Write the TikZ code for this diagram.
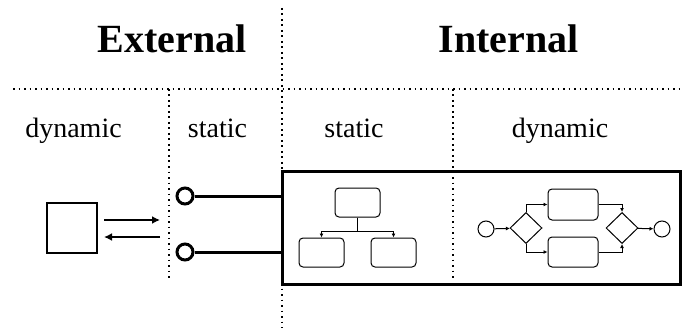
\documentclass[tikz,border=0pt]{standalone}
\usepackage{fontspec}
\setmainfont{Liberation Serif}
\usepackage{tikz}
\usetikzlibrary{arrows.meta,shapes.geometric}

\begin{document}
\begin{tikzpicture}[x=1pt,y=-1pt,>={Latex[length=8pt,width=8pt]},
                    semithick]

  \tikzstyle{title}=[font=\bfseries\fontsize{40}{44}\selectfont,anchor=base,inner sep=0pt]
  \tikzstyle{label}=[font=\fontsize{28}{32}\selectfont,anchor=base,inner sep=0pt]
  \tikzstyle{sep}=[line width=1.8pt,dash pattern=on 1.8pt off 3.7pt]
  \tikzstyle{port}=[draw,circle,line width=3pt,minimum size=16pt,inner sep=0pt]
  \tikzstyle{wire}=[line width=3pt]
  \tikzstyle{task}=[draw,rounded corners=4pt,line width=1pt,minimum width=45pt,
                    minimum height=29pt,inner sep=0pt]
  \tikzstyle{gate}=[draw,diamond,line width=1pt,minimum width=32pt,
                    minimum height=31pt,inner sep=0pt]
  \tikzstyle{event}=[draw,circle,line width=1pt,minimum size=16pt,inner sep=0pt]
  \tikzstyle{flow}=[line width=1pt,-{Latex[length=4pt,width=4pt]}]

  \useasboundingbox (0,0) rectangle (684,331);

  % separators
  \draw[sep] (282,8) -- (282,328);
  \draw[sep] (13,89) -- (684,89);
  \draw[sep] (169,89) -- (169,280);
  \draw[sep] (453,89) -- (453,280);

  % headings
  \node[title] (ext)  at (172,53)   {External};
  \node[title] (int)  at (508.5,53) {Internal};
  \node[label] (edyn) at (73.5,138) {dynamic};
  \node[label] (esta) at (217.5,138) {static};
  \node[label] (ista) at (354,138)  {static};
  \node[label] (idyn) at (560,138)  {dynamic};

  % external side
  \node[draw, line width=2.5pt, minimum size=50pt, inner sep=0pt] (env) at (72,228) {};
  \coordinate (outA) at (104,220);
  \coordinate (outB) at (160,220);
  \coordinate (inA)  at (160,237);
  \coordinate (inB)  at (104,237);
  \draw[->, line width=2pt] (outA) -- (outB);
  \draw[->, line width=2pt] (inA) -- (inB);

  % component
  \node[draw, line width=3pt, minimum width=398pt, minimum height=113pt,
        inner sep=0pt] (box) at (481,227.5) {};
  \node[port] (p1) at (185,196) {};
  \node[port] (p2) at (185,252) {};
  \draw[wire] (p1) -- (p1 -| box.west);
  \draw[wire] (p2) -- (p2 -| box.west);

  % internal structure
  \node[task] (top)   at (357.5,202.5) {};
  \node[task] (left)  at (321.5,252.5) {};
  \node[task] (right) at (393.5,252.5) {};
  \draw[flow] (top.south) -- ++(0,14) -| (left.north);
  \draw[flow] (top.south) -- ++(0,14) -| (right.north);

  % internal behaviour
  \node[event] (start) at (486,229) {};
  \node[gate]  (split) at (526,228) {};
  \node[task, minimum width=50pt, minimum height=31pt] (t1) at (573,204.5) {};
  \node[task, minimum width=50pt, minimum height=30pt] (t2) at (573,252) {};
  \node[gate]  (join)  at (622,228) {};
  \node[event] (stop)  at (662,229) {};

  \draw[flow] (start) -- (split);
  \draw[flow] (split.north) |- (t1);
  \draw[flow] (split.south) |- (t2);
  \draw[flow] (t1) -| (join.north);
  \draw[flow] (t2) -| (join.south);
  \draw[flow] (join) -- (stop);
\end{tikzpicture}
\end{document}
